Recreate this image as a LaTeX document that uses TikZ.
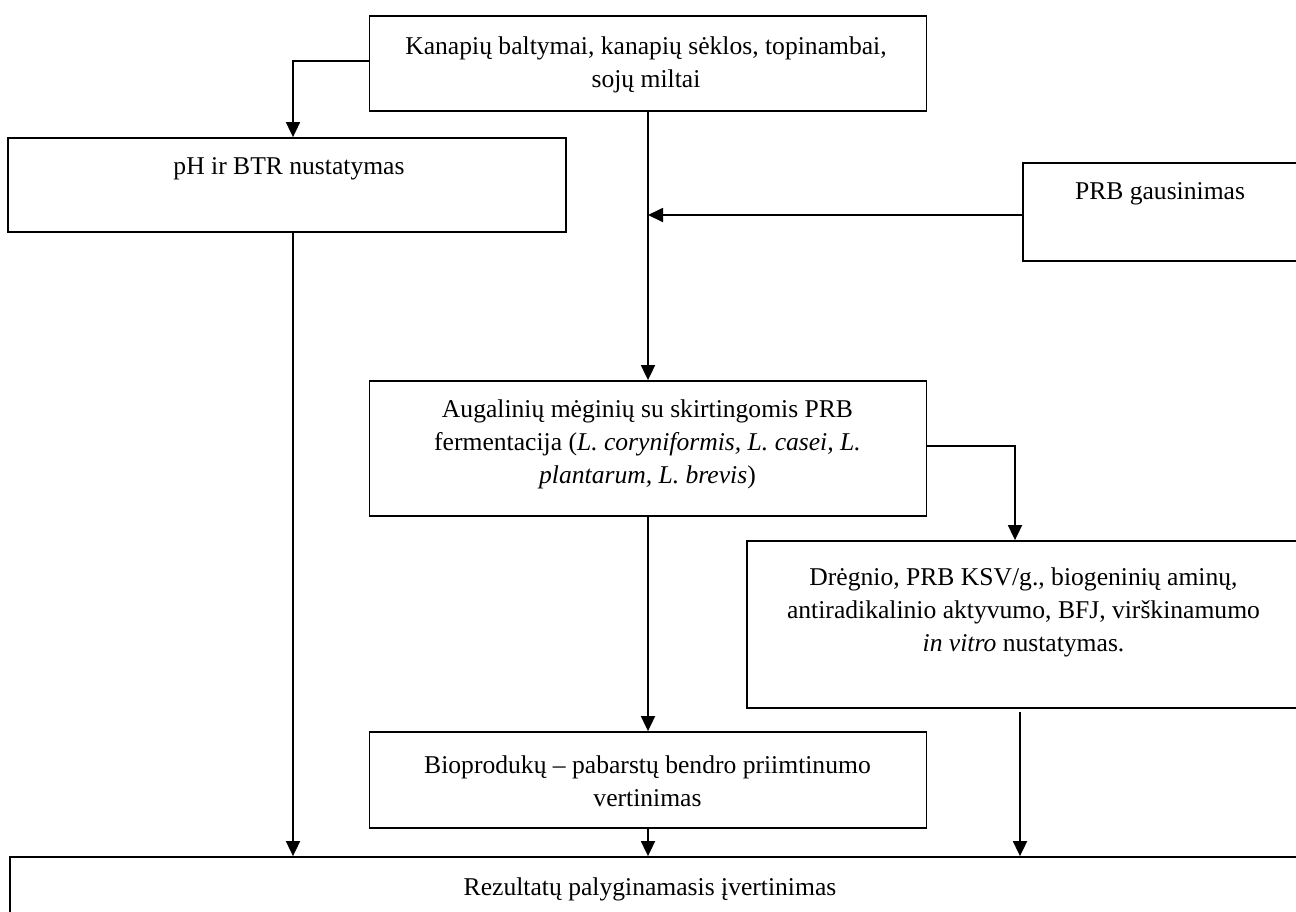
\documentclass[tikz,border=0pt]{standalone}
\usepackage{fontspec}
\setmainfont{Liberation Serif}
\usetikzlibrary{arrows.meta}
\tikzset{
  box/.style={draw=black, line width=0.9pt, rectangle, inner sep=0pt},
  txt/.style={align=center, inner sep=0pt, font=\fontsize{12.8pt}{16.5pt}\selectfont},
  arr/.style={line width=0.9pt, -{Triangle[length=7.5pt,width=7pt]}}
}
\begin{document}
\begin{tikzpicture}[x=0.5pt,y=-0.5pt]
\useasboundingbox (0,0) rectangle (1296,911);
\clip (0,0) rectangle (1296,911);
\fill[white] (0,0) rectangle (1296,911);
% boxes
\node[box, minimum width=278.5pt, minimum height=47.5pt] (top) at (648,63.5) {};
\node[box, minimum width=279pt, minimum height=47pt] (ph) at (287,185) {};
\node[box, minimum width=138.5pt, minimum height=49pt] (prb) at (1161.5,212) {};
\node[box, minimum width=278.5pt, minimum height=67.5pt] (aug) at (648,448.5) {};
\node[box, minimum width=276.5pt, minimum height=83.5pt] (dre) at (1023.5,624.5) {};
\node[box, minimum width=278.5pt, minimum height=48pt] (bio) at (648,780) {};
\node[box, minimum width=645pt, minimum height=36.5pt] (res) at (655,893.5) {};
% texts
\node[txt] (ttop) at (646,65) {Kanapių baltymai, kanapių sėklos, topinambai,\\ sojų miltai};
\node[txt] (tph) at (289,169) {pH ir BTR nustatymas};
\node[txt] (tprb) at (1160,194) {PRB gausinimas};
\node[txt] (taug) at (647.5,444) {Augalinių mėginių su skirtingomis PRB\\ fermentacija (\textit{L. coryniformis, L. casei, L.}\\ \textit{plantarum, L. brevis})};
\node[txt] (tdre) at (1023.5,612) {Drėgnio, PRB KSV/g., biogeninių aminų,\\ antiradikalinio aktyvumo, BFJ, virškinamumo\\ \textit{in vitro} nustatymas.};
\node[txt] (tbio) at (647.5,781.5) {Bioprodukų – pabarstų bendro priimtinumo\\ vertinimas};
\node[txt] (tres) at (650,889) {Rezultatų palyginamasis įvertinimas};
% connectors
\draw[arr] ([yshift=1.25pt]top.west) -| ([xshift=3pt]ph.north);
\draw[arr] (top.south) -- (aug.north);
\draw[arr] ([yshift=-1.5pt]prb.west) -- ([yshift=-1.5pt]prb.west -| top.south);
\draw[arr] ([yshift=1.25pt]aug.east) -| ([xshift=-4.25pt]dre.north);
\draw[arr] (aug.south) -- (bio.north);
\draw[arr] ([xshift=3pt]ph.south) -- ([xshift=3pt]ph.south |- res.north);
\draw[arr] (bio.south) -- (bio.south |- res.north);
\draw[arr] ([xshift=-1.75pt,yshift=-1.5pt]dre.south) -- ([xshift=-1.75pt]dre.south |- res.north);
\end{tikzpicture}
\end{document}
